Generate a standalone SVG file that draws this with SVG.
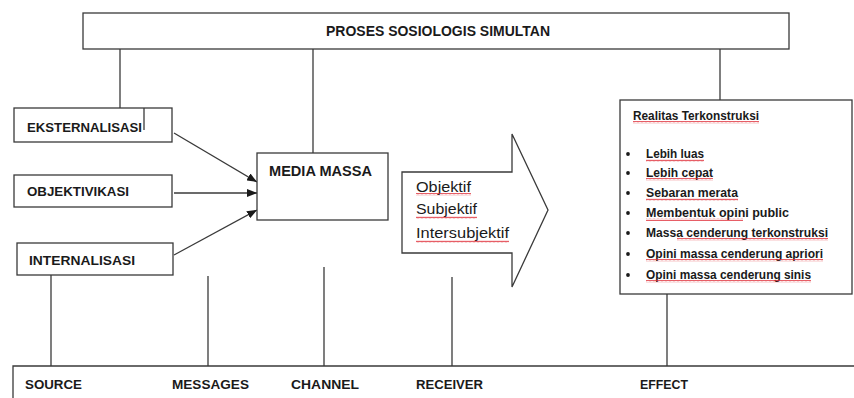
<svg xmlns="http://www.w3.org/2000/svg" width="854" height="398" viewBox="0 0 854 398">
  <defs>
    <style>
      .box { fill: #ffffff; stroke: #3a3a3a; stroke-width: 1.3; }
      .ln { fill: none; stroke: #3a3a3a; stroke-width: 1.3; }
      .b { font-family: "Liberation Sans", Arial, sans-serif; font-weight: bold; fill: #1a1a1a; }
      .r { font-family: "Liberation Sans", Arial, sans-serif; fill: #1a1a1a; }
      .sq { fill: url(#squig); }
    </style>
    <marker id="ah" markerWidth="10" markerHeight="8" refX="10" refY="4" orient="auto" markerUnits="userSpaceOnUse">
      <path d="M0,0 L10,4 L0,8 Z" fill="#1a1a1a"/>
    </marker>
    <pattern id="squig" x="0" y="0" width="4" height="3" patternUnits="userSpaceOnUse">
      <path d="M0,2.3 L1,0.8 L2,2.3 L3,0.8 L4,2.3" fill="none" stroke="#e0303a" stroke-width="0.8"/>
    </pattern>
  </defs>
  <rect width="854" height="398" fill="#ffffff"/>

  <g id="connectors">
    <line class="ln" x1="120" y1="49" x2="120" y2="108"/>
    <line class="ln" x1="313" y1="49" x2="313" y2="153"/>
    <line class="ln" x1="720" y1="49" x2="720" y2="100"/>
    <line class="ln" x1="174" y1="133" x2="257" y2="182" marker-end="url(#ah)"/>
    <line class="ln" x1="174" y1="193" x2="257" y2="193" marker-end="url(#ah)"/>
    <line class="ln" x1="174" y1="255" x2="257" y2="210" marker-end="url(#ah)"/>
    <line class="ln" x1="51" y1="275" x2="51" y2="366"/>
    <line class="ln" x1="208" y1="276" x2="208" y2="366"/>
    <line class="ln" x1="324" y1="267" x2="324" y2="366"/>
    <line class="ln" x1="452" y1="277" x2="452" y2="366"/>
    <line class="ln" x1="667" y1="294" x2="667" y2="366"/>
  </g>

  <g id="proses">
    <rect class="box" x="83" y="13" width="706" height="36"/>
    <text class="b" x="326" y="36" font-size="14" textLength="224" lengthAdjust="spacingAndGlyphs">PROSES SOSIOLOGIS SIMULTAN</text>
  </g>

  <g id="eksternalisasi">
    <rect class="box" x="14" y="108" width="158" height="34"/>
    <line class="ln" x1="144" y1="108" x2="144" y2="130"/>
    <text class="b" x="27" y="132" font-size="13" textLength="115" lengthAdjust="spacingAndGlyphs">EKSTERNALISASI</text>
  </g>

  <g id="objektivikasi">
    <rect class="box" x="14" y="175" width="158" height="32"/>
    <text class="b" x="27" y="196" font-size="13" textLength="102" lengthAdjust="spacingAndGlyphs">OBJEKTIVIKASI</text>
  </g>

  <g id="internalisasi">
    <rect class="box" x="17" y="243" width="156" height="32"/>
    <text class="b" x="29" y="265" font-size="13" textLength="106" lengthAdjust="spacingAndGlyphs">INTERNALISASI</text>
  </g>

  <g id="media-massa">
    <rect class="box" x="257" y="153" width="131" height="67"/>
    <text class="b" x="269" y="176" font-size="14" textLength="103" lengthAdjust="spacingAndGlyphs">MEDIA MASSA</text>
  </g>

  <g id="arrow-receiver">
    <path class="box" d="M402,172 L512,172 L512,134 L548,210 L512,287 L512,253 L402,253 Z"/>
    <text class="r" x="416" y="192" font-size="14.5" textLength="55" lengthAdjust="spacingAndGlyphs">Objektif</text>
    <text class="r" x="416" y="214" font-size="14.5" textLength="61" lengthAdjust="spacingAndGlyphs">Subjektif</text>
    <text class="r" x="416" y="238" font-size="14.5" textLength="93" lengthAdjust="spacingAndGlyphs">Intersubjektif</text>
    <rect class="sq" x="416" y="193" width="55" height="3"/>
    <rect class="sq" x="416" y="216" width="61" height="3"/>
    <rect class="sq" x="416" y="240" width="93" height="3"/>
  </g>

  <g id="realitas">
    <rect class="box" x="620" y="100" width="232" height="194"/>
    <text class="b" x="633" y="120" font-size="12" textLength="126" lengthAdjust="spacingAndGlyphs">Realitas Terkonstruksi</text>
    <g fill="#1a1a1a">
      <circle cx="628" cy="154" r="1.9"/>
      <circle cx="628" cy="173" r="1.9"/>
      <circle cx="628" cy="193" r="1.9"/>
      <circle cx="628" cy="213" r="1.9"/>
      <circle cx="628" cy="233" r="1.9"/>
      <circle cx="628" cy="254" r="1.9"/>
      <circle cx="628" cy="275" r="1.9"/>
    </g>
    <text class="b" x="646" y="158" font-size="12" textLength="58" lengthAdjust="spacingAndGlyphs">Lebih luas</text>
    <text class="b" x="646" y="177" font-size="12" textLength="67" lengthAdjust="spacingAndGlyphs">Lebih cepat</text>
    <text class="b" x="646" y="197" font-size="12" textLength="92" lengthAdjust="spacingAndGlyphs">Sebaran merata</text>
    <text class="b" x="646" y="217" font-size="12" textLength="143" lengthAdjust="spacingAndGlyphs">Membentuk opini public</text>
    <text class="b" x="646" y="237" font-size="12" textLength="182" lengthAdjust="spacingAndGlyphs">Massa cenderung terkonstruksi</text>
    <text class="b" x="646" y="258" font-size="12" textLength="177" lengthAdjust="spacingAndGlyphs">Opini massa cenderung apriori</text>
    <text class="b" x="646" y="279" font-size="12" textLength="165" lengthAdjust="spacingAndGlyphs">Opini massa cenderung sinis</text>
    <rect class="sq" x="633" y="121" width="126" height="3"/>
    <rect class="sq" x="646" y="159" width="58" height="3"/>
    <rect class="sq" x="646" y="178" width="67" height="3"/>
    <rect class="sq" x="646" y="198" width="92" height="3"/>
    <rect class="sq" x="646" y="218" width="97" height="3"/>
    <rect class="sq" x="677" y="238" width="151" height="3"/>
    <rect class="sq" x="646" y="259" width="177" height="3"/>
    <rect class="sq" x="646" y="280" width="165" height="3"/>
  </g>

  <g id="smcre-bar">
    <path class="ln" d="M13,398 L13,366 L854,366"/>
    <text class="b" x="25" y="389" font-size="13.5" textLength="57" lengthAdjust="spacingAndGlyphs">SOURCE</text>
    <text class="b" x="172" y="389" font-size="13.5" textLength="77" lengthAdjust="spacingAndGlyphs">MESSAGES</text>
    <text class="b" x="291" y="389" font-size="13.5" textLength="68" lengthAdjust="spacingAndGlyphs">CHANNEL</text>
    <text class="b" x="416" y="389" font-size="13.5" textLength="67" lengthAdjust="spacingAndGlyphs">RECEIVER</text>
    <text class="b" x="640" y="389" font-size="13.5" textLength="48" lengthAdjust="spacingAndGlyphs">EFFECT</text>
  </g>
</svg>
